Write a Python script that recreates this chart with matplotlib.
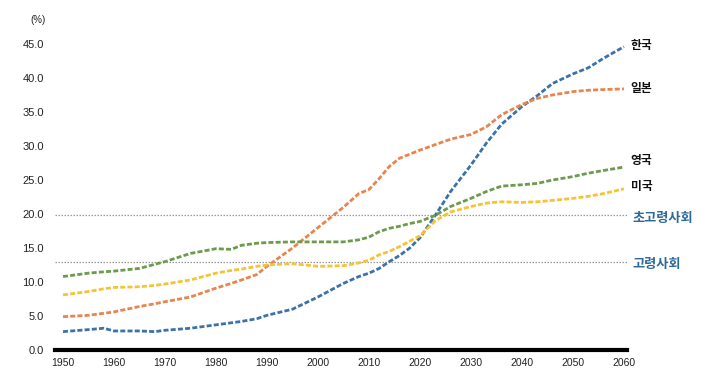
import matplotlib
matplotlib.use("Agg")
import matplotlib.pyplot as plt

plt.rcParams['font.family'] = ['Liberation Sans', 'Noto Sans CJK KR', 'DejaVu Sans']

years = [1950, 1955, 1958, 1960, 1965, 1968, 1970, 1975, 1980, 1983, 1985, 1988,
         1990, 1995, 2000, 2005, 2008, 2010, 2012, 2014, 2016, 2018, 2020, 2023,
         2026, 2030, 2033, 2036, 2040, 2043, 2046, 2050, 2053, 2056, 2060]

korea = [2.7, 3.0, 3.2, 2.8, 2.8, 2.7, 2.9, 3.2, 3.7, 4.0, 4.2, 4.6,
         5.1, 6.0, 7.8, 9.8, 10.8, 11.3, 12.0, 13.0, 13.9, 15.0, 16.5, 19.8,
         23.3, 27.2, 30.4, 33.2, 35.8, 37.4, 39.2, 40.6, 41.5, 42.9, 44.6]
japan = [4.9, 5.1, 5.4, 5.6, 6.4, 6.8, 7.1, 7.8, 9.1, 9.8, 10.3, 11.1,
         12.3, 15.0, 18.0, 21.0, 23.0, 23.6, 25.2, 27.0, 28.2, 28.8, 29.4, 30.2,
         31.0, 31.7, 32.8, 34.6, 36.1, 37.0, 37.5, 38.0, 38.2, 38.3, 38.4]
uk = [10.8, 11.3, 11.5, 11.6, 12.0, 12.6, 13.0, 14.2, 14.9, 14.8, 15.4, 15.7,
      15.8, 15.9, 15.9, 15.9, 16.2, 16.6, 17.4, 17.9, 18.2, 18.6, 18.9, 19.8,
      21.1, 22.3, 23.3, 24.1, 24.3, 24.5, 25.0, 25.5, 26.0, 26.4, 26.9]
us = [8.1, 8.6, 9.0, 9.2, 9.3, 9.5, 9.7, 10.3, 11.3, 11.7, 11.9, 12.3,
      12.5, 12.7, 12.3, 12.4, 12.8, 13.2, 14.0, 14.5, 15.2, 16.0, 16.8, 19.0,
      20.3, 21.1, 21.6, 21.8, 21.7, 21.8, 22.0, 22.3, 22.6, 23.0, 23.7]

series_names = ['한국', '일본', '영국', '미국']
series_values = [korea, japan, uk, us]
series_colors = ['#3b72a8', '#e8844e', '#6c9b4c', '#f4c435']
label_values = [44.8, 38.5, 27.9, 24.0]

thresholds = [19.8, 13.0]
threshold_names = ['초고령사회', '고령사회']

xticks = list(range(1950, 2061, 10))
yticks = [0, 5, 10, 15, 20, 25, 30, 35, 40, 45]

fig = plt.figure(figsize=(7.2, 3.8), dpi=100)
ax = fig.add_axes([55/720, 30/380, 572/720, 306/380])
ax.set_xlim(1948.43, 2060.6)
ax.set_ylim(0, 45)

for t in thresholds:
    ax.axhline(t, color='#9a9a9a', lw=0.9, ls=(0, (1.2, 1.2)), zorder=1, clip_on=False)

for vals, col in zip(series_values, series_colors):
    ax.plot(years, vals, color=col, lw=2.0, ls=(0, (1.8, 0.8)), zorder=3,
            solid_capstyle='butt', dash_capstyle='butt')

for name, lv in zip(series_names, label_values):
    ax.text(2061.3, lv, name, fontsize=8.5, color='#111111', va='center', ha='left',
            family=['Noto Sans CJK KR', 'DejaVu Sans'], fontweight='bold', clip_on=False)

for t, name in zip(thresholds, threshold_names):
    ax.text(2061.6, t - 0.35, name, fontsize=9.5, color='#2d6a9a', va='center', ha='left',
            family=['Noto Sans CJK KR', 'DejaVu Sans'], fontweight='bold', clip_on=False)

for s in ['top', 'right', 'left']:
    ax.spines[s].set_visible(False)
ax.spines['bottom'].set_linewidth(3)
ax.spines['bottom'].set_color('black')

ax.set_xticks(xticks)
ax.set_xticklabels([str(x) for x in xticks], fontsize=7.5, color='#222222')
ax.set_yticks(yticks)
ax.set_yticklabels([f'{y:.1f}' for y in yticks], fontsize=8, color='#222222')
ax.tick_params(axis='both', length=0)
ax.tick_params(axis='x', pad=6)
ax.tick_params(axis='y', pad=8)

fig.text(38/720, 1 - 20/380, '(%)', fontsize=7, color='#222222', ha='center', va='center')

fig.savefig('out.png', dpi=100, facecolor='white')
